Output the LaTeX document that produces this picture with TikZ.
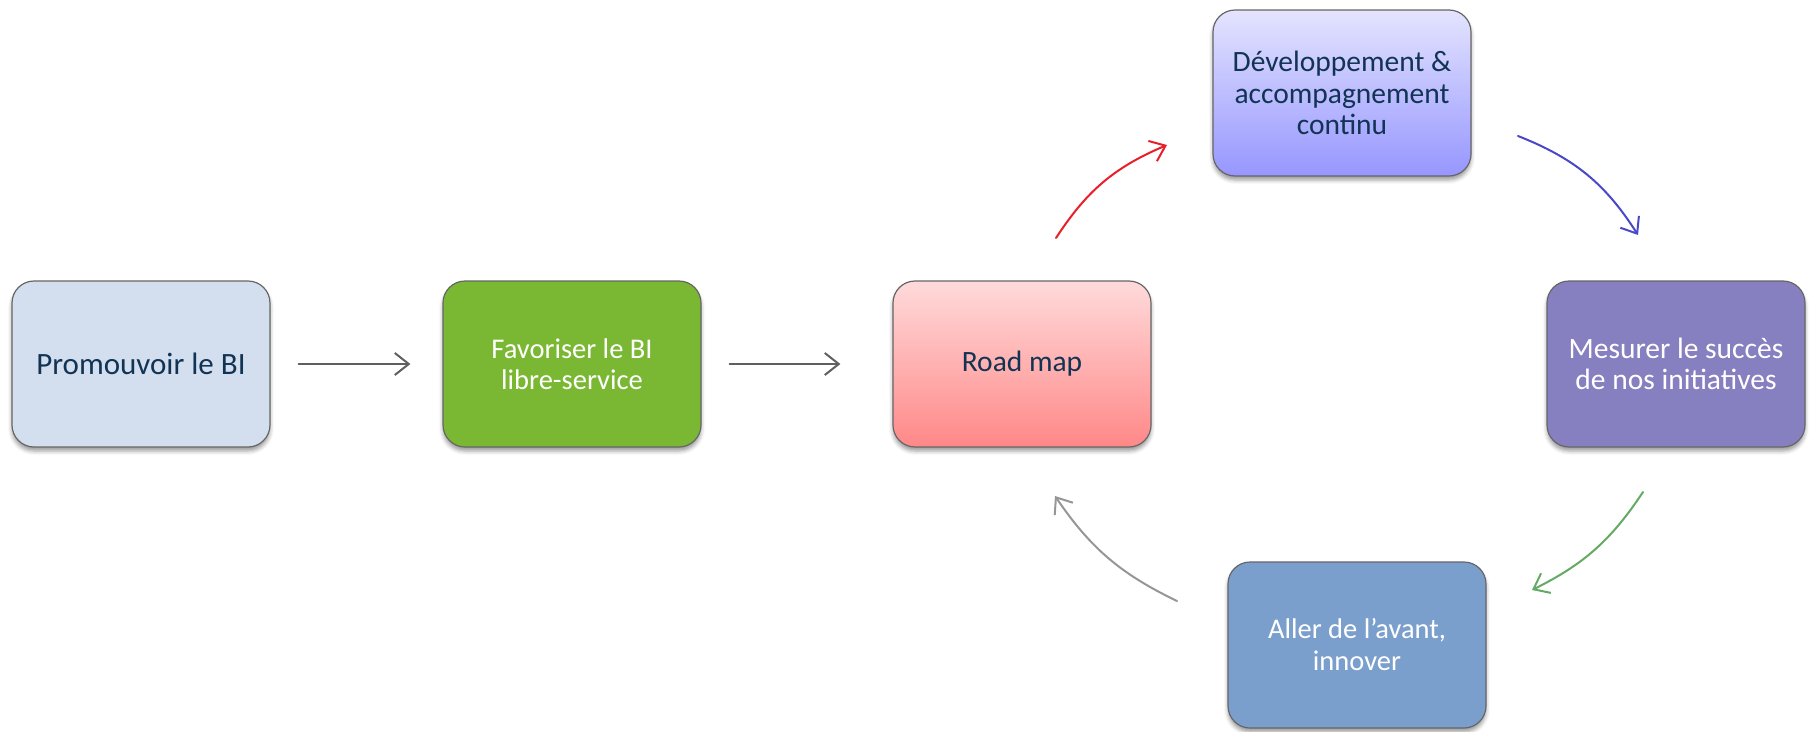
\documentclass[tikz,border=0pt]{standalone}
\usepackage{fontspec}
\setmainfont{Carlito}
\usetikzlibrary{arrows.meta,shadows.blur}

\definecolor{navytext}{RGB}{18,52,84}
\definecolor{paleblue}{RGB}{211,223,238}
\definecolor{leafgreen}{RGB}{122,184,51}
\definecolor{rosetop}{RGB}{255,218,218}
\definecolor{rosebottom}{RGB}{255,136,136}
\definecolor{lilactop}{RGB}{228,228,255}
\definecolor{lilacbottom}{RGB}{150,150,255}
\definecolor{violet}{RGB}{135,128,192}
\definecolor{steelblue}{RGB}{123,159,205}
\definecolor{flowgray}{RGB}{95,95,95}
\definecolor{flowred}{RGB}{232,30,40}
\definecolor{flowblue}{RGB}{72,72,200}
\definecolor{flowgreen}{RGB}{100,170,100}
\definecolor{flowsilver}{RGB}{150,150,150}

\begin{document}
\begin{tikzpicture}[x=1pt,y=-1pt,
  card/.style={rounded corners=22pt, minimum width=258pt, minimum height=166pt,
    inner sep=0pt, align=center, draw=black!60, line width=1.2pt,
    blur shadow={shadow xshift=0pt, shadow yshift=-4pt,
      shadow blur radius=4pt, shadow opacity=40},
    font=\fontsize{29}{32}\selectfont},
  flow/.style={line width=2pt, line cap=round,
    -{Straight Barb[length=14pt,width=22pt,line width=2pt]}},
]
\useasboundingbox (0,0) rectangle (1810,731);

% steps of the linear part
\node[card, fill=paleblue, text=navytext, font=\fontsize{31}{34}\selectfont]
  (promo) at (141,364) {Promouvoir le BI};
\node[card, fill=leafgreen, text=white, font=\fontsize{28.5}{31}\selectfont]
  (libre) at (572,364) {Favoriser le BI\\libre-service};
\node[card, top color=rosetop, bottom color=rosebottom, text=navytext,
  font=\fontsize{29.5}{33}\selectfont]
  (road) at (1022,364) {Road map};

% steps of the cycle
\node[card, top color=lilactop, bottom color=lilacbottom, text=navytext,
  font=\fontsize{29.5}{31.5}\selectfont]
  (dev) at (1342,93) {D\'eveloppement \&\\accompagnement\\continu};
\node[card, fill=violet, text=white, font=\fontsize{29.5}{31}\selectfont]
  (mesure) at (1676,364) {Mesurer le succ\`es\\de nos initiatives};
\node[card, fill=steelblue, text=white, font=\fontsize{28.5}{32}\selectfont]
  (innov) at (1357,645) {Aller de l’avant,\\innover};

% straight connectors
\draw[flow, flowgray, shorten <=28pt, shorten >=32pt] (promo) -- (libre);
\draw[flow, flowgray, shorten <=28pt, shorten >=52pt] (libre) -- (road);

% ends of the curved connectors
\coordinate (redA) at (1056,238);
\coordinate (redB) at (1167,145);
\coordinate (blueA) at (1518,136);
\coordinate (blueB) at (1638,235);
\coordinate (greenA) at (1643,492);
\coordinate (greenB) at (1532,590);
\coordinate (grayA) at (1177,601);
\coordinate (grayB) at (1055,496);

\draw[flow, flowred] (redA) to[bend left=17] (redB);
\draw[flow, flowblue] (blueA) to[bend left=18] (blueB);
\draw[flow, flowgreen] (greenA) to[bend left=15] (greenB);
\draw[flow, flowsilver] (grayA) to[bend left=15] (grayB);
\end{tikzpicture}
\end{document}
